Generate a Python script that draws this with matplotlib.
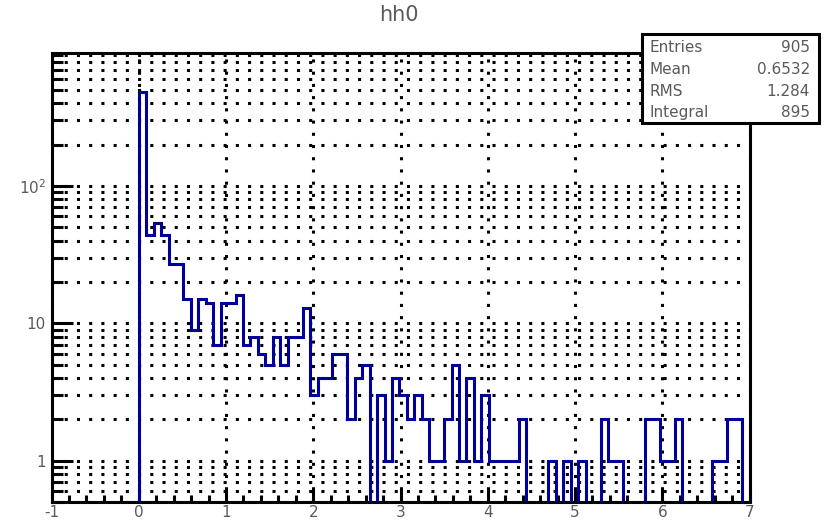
import matplotlib
matplotlib.use('Agg')
import matplotlib.pyplot as plt
import numpy as np
from matplotlib.patches import Rectangle
from matplotlib.ticker import LogLocator, MultipleLocator, NullFormatter

# histogram hh0 : 82 bins between 0 and 7, log y
title = 'hh0'
x_min, x_max, n_bins = 0.0, 7.0, 82
counts = [480, 44, 54, 44, 27, 27, 15, 9, 15, 14,
          7, 14, 14, 16, 7, 8, 6, 5, 8, 5,
          8, 8, 13, 3, 4, 4, 6, 6, 2, 4,
          5, 0, 3, 1, 4, 3, 2, 3, 2, 1,
          1, 2, 5, 1, 4, 1, 3, 1, 1, 1,
          1, 2, 0, 0, 0, 1, 0, 1, 0, 1,
          0, 0, 2, 1, 1, 0, 0, 0, 2, 2,
          1, 1, 2, 0, 0, 0, 0, 1, 1, 2,
          2, 0]

stat_names = ['Entries', 'Mean', 'RMS', 'Integral']
stat_values = ['905', '0.6532', '1.284', '895']

x_ticks = [-1, 0, 1, 2, 3, 4, 5, 6, 7]
y_ticks = [1, 10, 100]
y_tick_labels = ['1', '10', r'$\mathregular{10^{2}}$']

grey = '#5a5a5a'

edges = np.linspace(x_min, x_max, n_bins + 1)
vals = np.array(counts, dtype=float)
# empty bins go below the frame (like root does on log scale)
vals_plot = np.where(vals > 0, vals, 0.1)

fig = plt.figure(figsize=(8.24, 5.2), dpi=100)
ax = fig.add_axes([0.0625, 0.0346, 0.8471, 0.8635])
ax.set_yscale('log')
ax.set_xlim(-1, 7)
ax.set_ylim(0.5, 930)

ax.stairs(vals_plot, edges, baseline=0.1, color='#000099', lw=2.2, zorder=3)

ax.set_xticks(x_ticks)
ax.set_xticklabels([str(t) for t in x_ticks])
ax.xaxis.set_minor_locator(MultipleLocator(0.2))
ax.set_yticks(y_ticks)
ax.set_yticklabels(y_tick_labels)
ax.yaxis.set_minor_locator(LogLocator(base=10, subs=np.arange(2, 10), numticks=30))
ax.yaxis.set_minor_formatter(NullFormatter())

ax.grid(True, which='both', axis='y', color='black', ls=(0, (1, 3)), lw=2.2)
ax.grid(True, which='major', axis='x', color='black', ls=(0, (1, 3)), lw=2.2)
ax.set_axisbelow(True)

ax.tick_params(axis='both', which='both', direction='in', top=False, right=False,
               width=2.2, color='black', labelcolor=grey, labelsize=11)
ax.tick_params(axis='y', which='major', length=15, pad=4)
ax.tick_params(axis='y', which='minor', length=7.6)
ax.tick_params(axis='x', which='major', length=9.7, pad=2)
ax.tick_params(axis='x', which='minor', length=4.8)
for s in ax.spines.values():
    s.set_linewidth(2.2)

fig.text(0.484, 0.972, title, ha='center', va='center', fontsize=15, color=grey)

# stats box
fig.add_artist(Rectangle((0.779, 0.7635), 0.2148, 0.1712, transform=fig.transFigure,
                         facecolor='white', edgecolor='black', lw=2.2, zorder=5))
row_y = [0.9096, 0.8673, 0.825, 0.7846]
for name, val, yy in zip(stat_names, stat_values, row_y):
    fig.text(0.7888, yy, name, ha='left', va='center', fontsize=11, color=grey, zorder=6)
    fig.text(0.983, yy, val, ha='right', va='center', fontsize=11, color=grey, zorder=6)

fig.savefig('out.png', dpi=100)
